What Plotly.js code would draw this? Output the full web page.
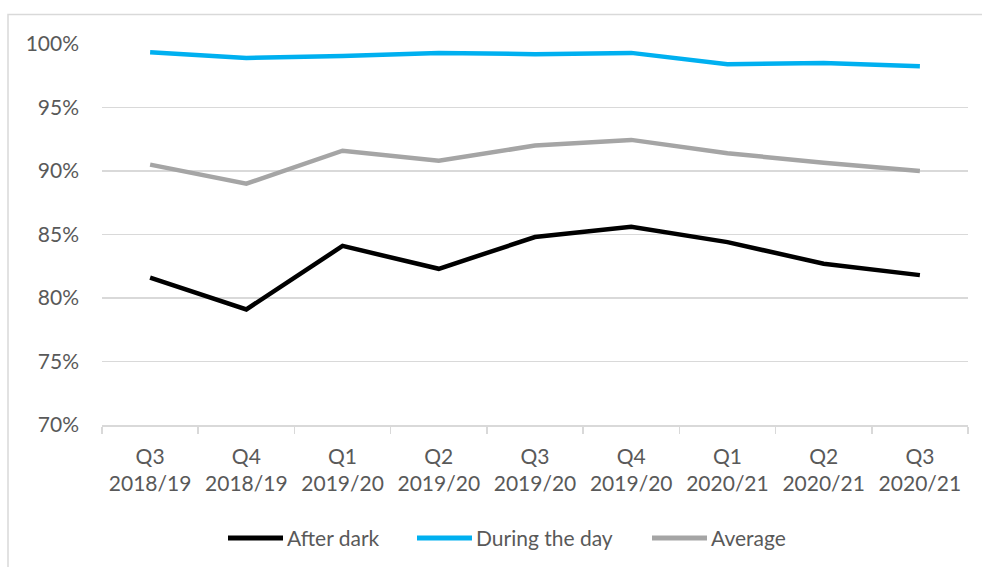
<!DOCTYPE html>
<html>
<head>
<meta charset="utf-8">
<script src="https://cdn.plot.ly/plotly-3.0.1.min.js"></script>
<style>
  html, body { margin: 0; padding: 0; background: #fff; }
  #chart { width: 982px; height: 567px; }
</style>
</head>
<body>
<div id="chart"></div>
<script>
// Quarter labels along the x axis
const quarters = ["Q3", "Q4", "Q1", "Q2", "Q3", "Q4", "Q1", "Q2", "Q3"];
const years = ["2018/19", "2018/19", "2019/20", "2019/20", "2019/20", "2019/20", "2020/21", "2020/21", "2020/21"];

// Share of respondents (%) per quarter
const afterDark = [81.6, 79.1, 84.1, 82.3, 84.8, 85.6, 84.4, 82.7, 81.8];
const duringDay = [99.35, 98.9, 99.05, 99.3, 99.2, 99.3, 98.4, 98.5, 98.25];
const average = [90.5, 89.0, 91.6, 90.8, 92.0, 92.45, 91.4, 90.65, 90.0];

const yTicks = [70, 75, 80, 85, 90, 95, 100];

const cats = quarters.map((q, i) => q + "<br>" + years[i]);
const font = { family: "Lato, 'Open Sans', sans-serif", size: 21, color: "#595959" };

const series = [
  { name: "After dark", y: afterDark, color: "#000000" },
  { name: "During the day", y: duringDay, color: "#00B0F0" },
  { name: "Average", y: average, color: "#A5A5A5" }
];

// Plot-area geometry in pixels, used to place the legend below the axis
const W = 982, H = 567;
const M = { l: 102, r: 14, t: 44, b: 142 };
const plotW = W - M.l - M.r, plotH = H - M.t - M.b;
const px = x => (x - M.l) / plotW;
const py = y => (H - M.b - y) / plotH;

// Legend: a long key line followed by its label, one entry per series
const legendStart = [228, 417, 652];
const legendY = 538;
const keyLen = 55;

const traces = series.map(s => ({
  type: "scatter",
  mode: "lines",
  name: s.name,
  x: cats,
  y: s.y,
  line: { color: s.color, width: 4.5 },
  hoverinfo: "skip",
  showlegend: false
}));

const shapes = [{
  type: "rect",
  xref: "paper", yref: "paper",
  x0: px(8), x1: 1.2,
  y0: -0.6, y1: py(14.5),
  line: { color: "#d9d9d9", width: 1.5 },
  fillcolor: "rgba(0,0,0,0)",
  layer: "below"
}];
const annotations = [];
series.forEach((s, i) => {
  const x0 = legendStart[i];
  shapes.push({
    type: "line",
    xref: "paper", yref: "paper",
    x0: px(x0), x1: px(x0 + keyLen),
    y0: py(legendY), y1: py(legendY),
    line: { color: s.color, width: 5 }
  });
  annotations.push({
    xref: "paper", yref: "paper",
    x: px(x0 + keyLen + 2), y: py(legendY - 1),
    xanchor: "left", yanchor: "middle",
    text: s.name,
    showarrow: false,
    font: font
  });
});

const layout = {
  width: W,
  height: H,
  margin: M,
  paper_bgcolor: "#ffffff",
  plot_bgcolor: "#ffffff",
  font: font,
  showlegend: false,
  xaxis: {
    type: "category",
    range: [-0.5, 8.5],
    showgrid: false,
    showline: true,
    linecolor: "#d9d9d9",
    linewidth: 1.5,
    ticks: "outside",
    tickson: "boundaries",
    ticklen: 7,
    tickcolor: "#d9d9d9",
    tickwidth: 1.5,
    ticklabelstandoff: 12,
    tickfont: font,
    fixedrange: true
  },
  yaxis: {
    range: [70, 100],
    tickvals: yTicks,
    ticktext: yTicks.map(v => v + "%"),
    showgrid: true,
    gridcolor: "#d9d9d9",
    gridwidth: 1.5,
    zeroline: false,
    showline: false,
    ticks: "",
    ticklabelstandoff: 22,
    tickfont: font,
    fixedrange: true
  },
  shapes: shapes,
  annotations: annotations
};

Plotly.newPlot("chart", traces, layout, { displayModeBar: false, staticPlot: true });
</script>
</body>
</html>
